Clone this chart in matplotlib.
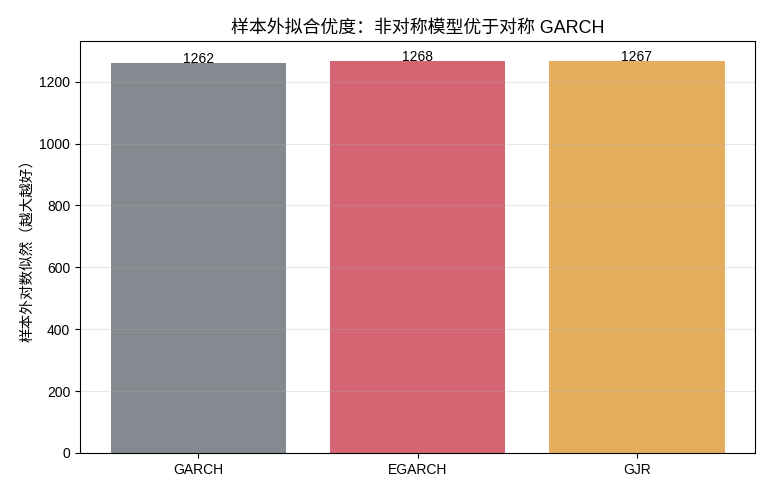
import matplotlib
matplotlib.use('Agg')
import matplotlib.pyplot as plt

plt.rcParams['font.family'] = ['Liberation Sans', 'Noto Sans CJK SC', 'DejaVu Sans']
plt.rcParams['axes.unicode_minus'] = False

models = ['GARCH', 'EGARCH', 'GJR']
loglik = [1262, 1268, 1267]
colors = ['#858a91', '#d66472', '#e5ae5f']

fig, ax = plt.subplots(figsize=(7.7, 4.95), dpi=100)
bars = ax.bar(models, loglik, color=colors, width=0.8)
for i, v in enumerate(loglik):
    ax.text(i, v, str(v), ha='center', va='baseline', fontsize=10)

ax.set_title('样本外拟合优度：非对称模型优于对称 GARCH', fontsize=12.9)
ax.set_ylabel('样本外对数似然（越大越好）', fontsize=10.5)
ax.grid(axis='y', alpha=0.3)
ax.tick_params(labelsize=10)

fig.subplots_adjust(left=0.104, right=0.981, top=0.917, bottom=0.085)
fig.savefig('out.png', dpi=100)
